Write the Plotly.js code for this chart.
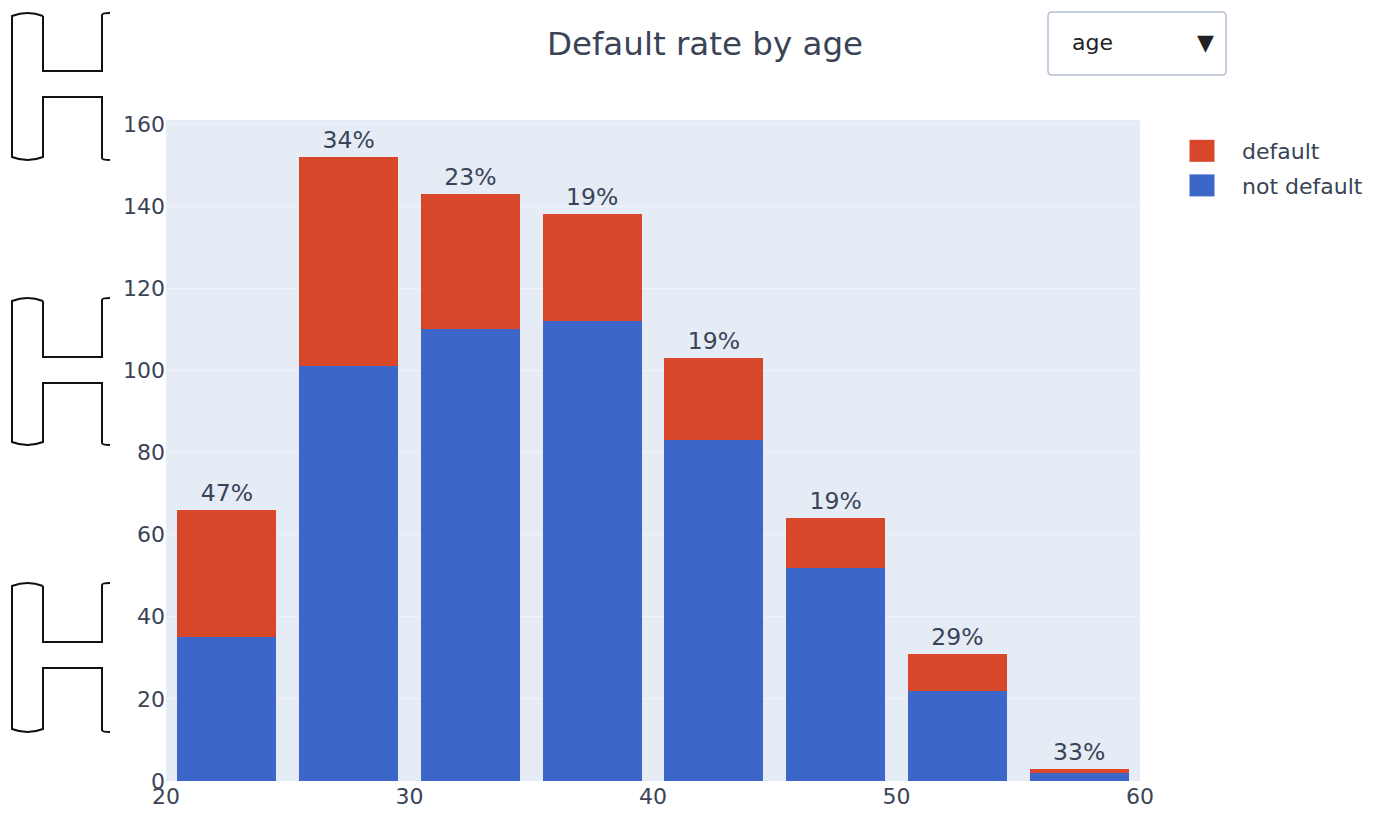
<!DOCTYPE html>
<html>
<head>
<meta charset="utf-8">
<script src="https://cdn.plot.ly/plotly-3.0.1.min.js"></script>
<style>
  html, body { margin: 0; padding: 0; background: #fff; }
  #chart { width: 1383px; height: 816px; }
</style>
</head>
<body>
<div id="chart"></div>
<script>
// Age bins (5-year wide), centred on the bin midpoint
const binStart = [20, 25, 30, 35, 40, 45, 50, 55];
const binWidth = 5;
// Counts per bin
const notDefault = [35, 101, 110, 112, 83, 52, 22, 2];
const defaulted  = [31, 51, 33, 26, 20, 12, 9, 1];
// Axis ticks
const xTicks = [20, 30, 40, 50, 60];
const yTicks = [0, 20, 40, 60, 80, 100, 120, 140, 160];

const binMid = binStart.map(s => s + binWidth / 2);
const rateLabels = defaulted.map((d, i) =>
  Math.round(100 * d / (d + notDefault[i])) + '%');

const FONT = 'Verdana, "DejaVu Sans", sans-serif';
const INK = '#3a4456';

const W = 1383, H = 816;
const M = { l: 166, r: 243, t: 120, b: 35 };
const PW = W - M.l - M.r, PH = H - M.t - M.b;
// pixel -> paper helpers for margin decorations
const px = x => (x - M.l) / PW;
const py = y => (H - M.b - y) / PH;

// Clip-shaped outline drawn in the left margin
function clipPath(top, mid1, mid2, bottom) {
  const L = 12, I = 43, R = 102, hook = 8, r = 3;
  return [
    `M ${px(I)} ${py(top + r)}`,
    `Q ${px((L + I) / 2)} ${py(top - r)} ${px(L)} ${py(top + r)}`,
    `L ${px(L)} ${py(bottom - r)}`,
    `Q ${px((L + I) / 2)} ${py(bottom + r)} ${px(I)} ${py(bottom - r)}`,
    `L ${px(I)} ${py(mid2)}`,
    `L ${px(R)} ${py(mid2)}`,
    `L ${px(R)} ${py(bottom - 2)}`,
    `Q ${px(R)} ${py(bottom)} ${px(R + hook)} ${py(bottom)}`,
    `M ${px(I)} ${py(top + r)}`,
    `L ${px(I)} ${py(mid1)}`,
    `L ${px(R)} ${py(mid1)}`,
    `L ${px(R)} ${py(top + 2)}`,
    `Q ${px(R)} ${py(top)} ${px(R + hook)} ${py(top)}`
  ].join(' ');
}
const clips = [[13, 71, 97, 160], [298, 357, 383, 445], [583, 642, 668, 732]];

// Rounded frame for the dropdown
function roundRect(x0, y0, x1, y1, r) {
  return [
    `M ${px(x0 + r)} ${py(y0)}`,
    `L ${px(x1 - r)} ${py(y0)}`,
    `Q ${px(x1)} ${py(y0)} ${px(x1)} ${py(y0 + r)}`,
    `L ${px(x1)} ${py(y1 - r)}`,
    `Q ${px(x1)} ${py(y1)} ${px(x1 - r)} ${py(y1)}`,
    `L ${px(x0 + r)} ${py(y1)}`,
    `Q ${px(x0)} ${py(y1)} ${px(x0)} ${py(y1 - r)}`,
    `L ${px(x0)} ${py(y0 + r)}`,
    `Q ${px(x0)} ${py(y0)} ${px(x0 + r)} ${py(y0)} Z`
  ].join(' ');
}

const traces = [
  {
    type: 'bar',
    name: 'not default',
    legendgroup: 'nd',
    legendrank: 2,
    x: binMid,
    y: notDefault,
    width: binWidth * 0.815,
    marker: { color: '#3d66c9' },
    hoverinfo: 'x+y+name'
  },
  {
    type: 'bar',
    name: 'default',
    legendgroup: 'd',
    legendrank: 1,
    x: binMid,
    y: defaulted,
    width: binWidth * 0.815,
    marker: { color: '#d9472a' },
    text: rateLabels,
    textposition: 'outside',
    cliponaxis: false,
    textfont: { family: FONT, size: 23.5, color: INK },
    hoverinfo: 'x+y+name'
  }
];

const layout = {
  width: W,
  height: H,
  barmode: 'stack',
  margin: M,
  paper_bgcolor: '#ffffff',
  plot_bgcolor: '#e5ecf6',
  font: { family: FONT, size: 22, color: INK },
  title: {
    text: 'Default rate by age',
    x: 705 / W, xref: 'container', xanchor: 'center',
    y: 1 - 44 / H, yref: 'container', yanchor: 'middle',
    font: { family: FONT, size: 32.5, color: INK }
  },
  xaxis: {
    range: [20, 60],
    tickvals: xTicks,
    showgrid: false,
    zeroline: false,
    ticks: '',
    tickfont: { size: 22 }
  },
  yaxis: {
    range: [0, 161],
    tickvals: yTicks,
    showgrid: true, gridcolor: 'rgba(255,255,255,0.45)',
    zeroline: false,
    ticks: '',
    tickfont: { size: 22 }
  },
  legend: {
    x: px(1162), y: py(130), xanchor: 'left', yanchor: 'top',
    traceorder: 'grouped',
    font: { size: 22 },
    itemwidth: 70,
    tracegroupgap: 3,
    bgcolor: 'rgba(0,0,0,0)'
  },
  updatemenus: [{
    type: 'dropdown',
    x: px(1060), y: py(30), xanchor: 'left', yanchor: 'top',
    pad: { t: 0, r: 0, b: 0, l: 0 },
    bgcolor: 'rgba(255,255,255,0)',
    bordercolor: 'rgba(0,0,0,0)',
    borderwidth: 0,
    font: { size: 22, color: '#222' },
    showactive: true,
    active: 0,
    buttons: [
      { label: 'age\u00a0\u00a0\u00a0\u00a0\u00a0\u00a0\u00a0\u00a0\u00a0\u00a0\u00a0', method: 'skip', args: [] }
    ]
  }],
  shapes: clips.map(c => ({
    type: 'path', xref: 'paper', yref: 'paper',
    path: clipPath(c[0], c[1], c[2], c[3]),
    line: { color: '#111111', width: 2 },
    layer: 'above'
  })).concat([{
    type: 'path', xref: 'paper', yref: 'paper',
    path: roundRect(1048, 12, 1226, 75, 4),
    fillcolor: '#ffffff',
    line: { color: '#b4bfd3', width: 1.5 },
    layer: 'above'
  }]),
  showlegend: true
};

// Larger square swatches in the legend
function enlargeSwatches(gd) {
  gd.querySelectorAll('.legend .legendpoints path').forEach(p => {
    p.setAttribute('d', 'M12.5,11H-12.5V-11H12.5Z');
  });
}

Plotly.newPlot('chart', traces, layout, { displayModeBar: false, responsive: false })
  .then(gd => {
    enlargeSwatches(gd);
    gd.on('plotly_afterplot', () => enlargeSwatches(gd));
  });
</script>
</body>
</html>
